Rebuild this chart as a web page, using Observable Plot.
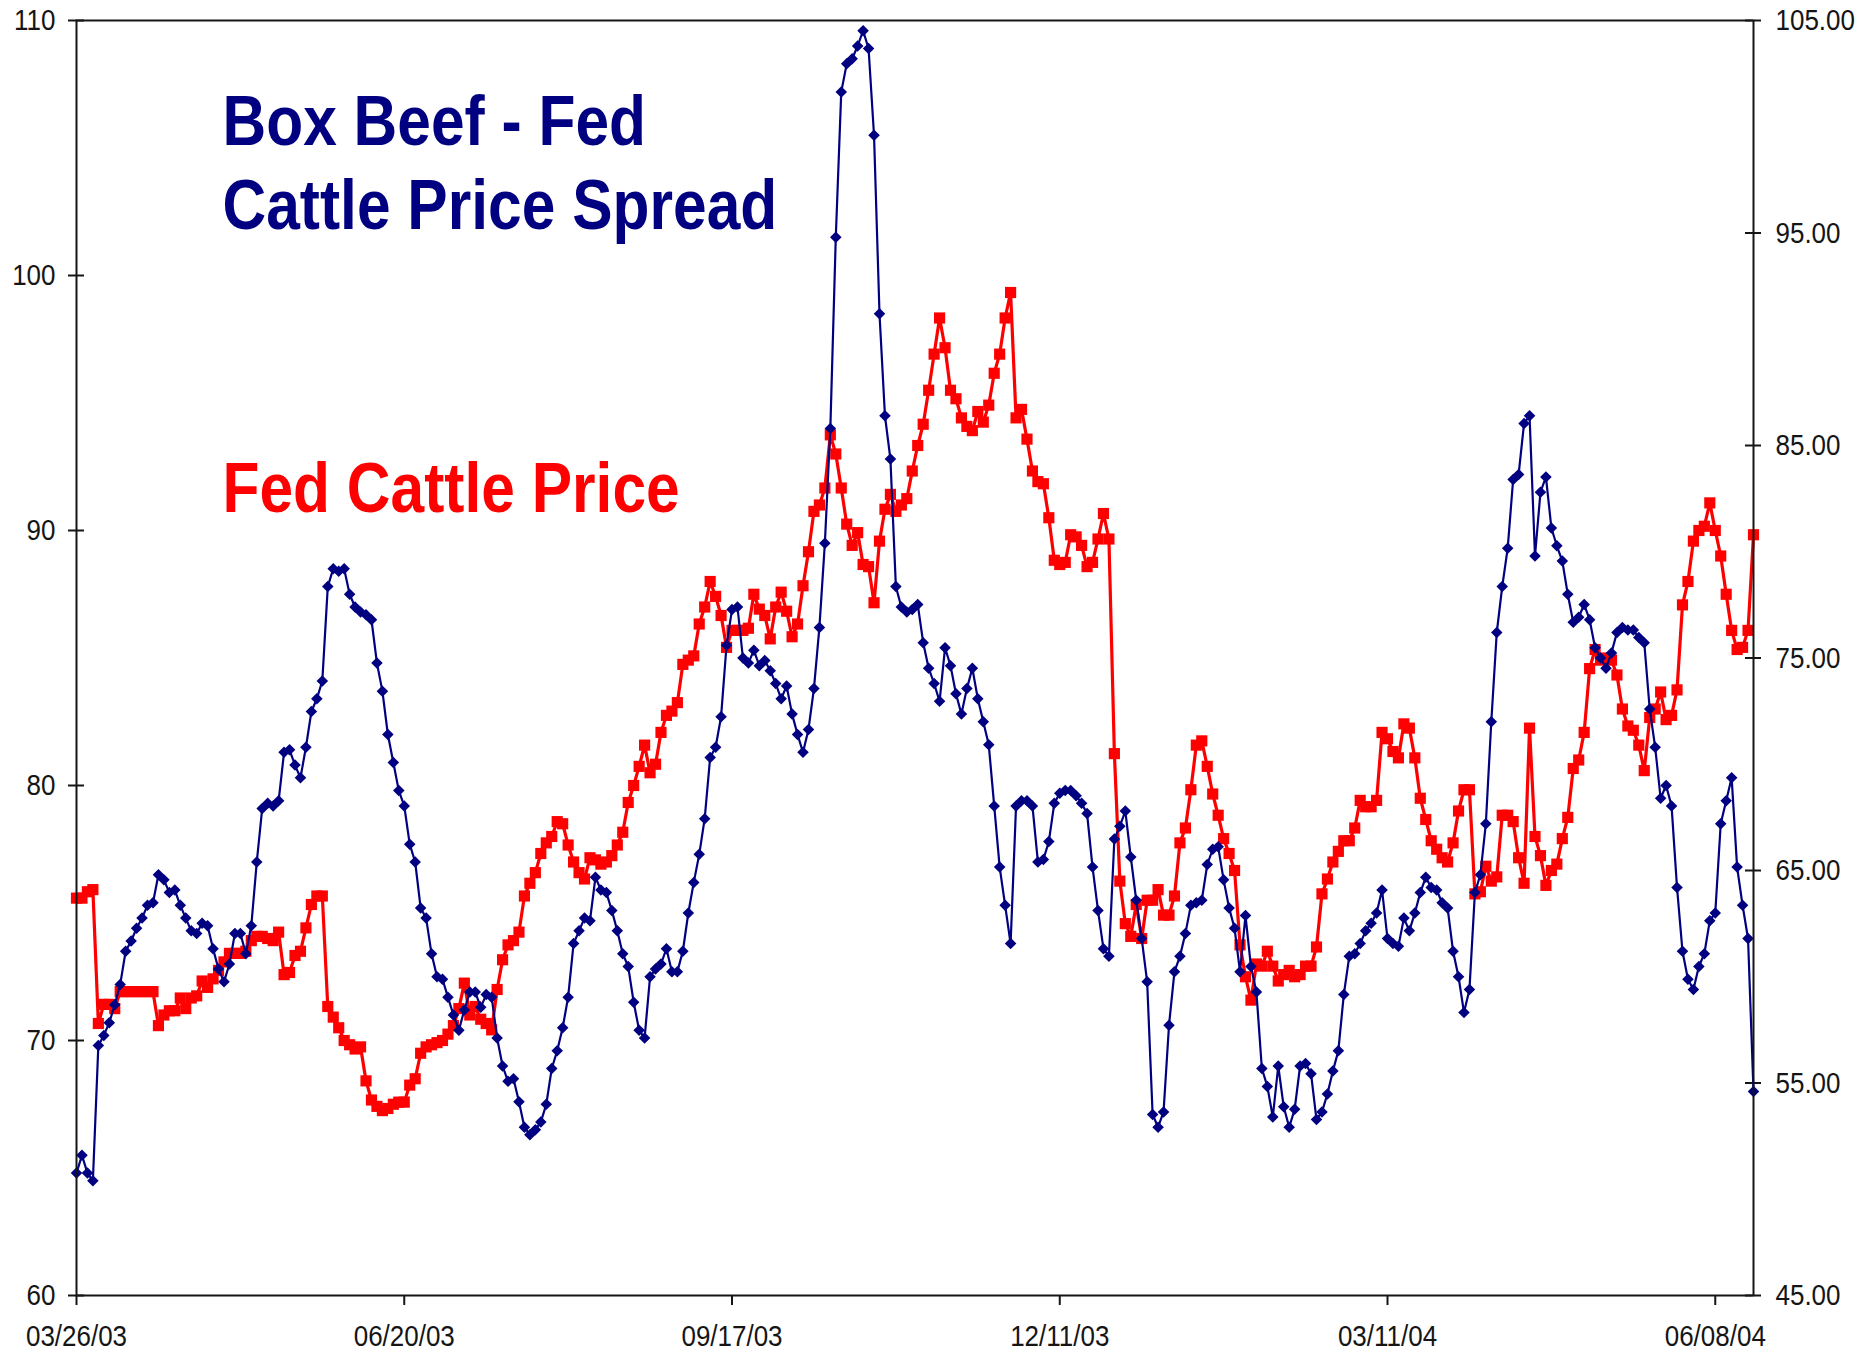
<!DOCTYPE html>
<html><head><meta charset="utf-8">
<script src="https://cdn.jsdelivr.net/npm/d3@7"></script>
<script src="https://cdn.jsdelivr.net/npm/@observablehq/plot@0.6"></script>
<style>body{margin:0;background:#fff;}</style>
</head><body><div id="chart"></div>
<script>
// Box beef - fed cattle price spread (left axis), one value per trading day
const spread = [
64.8,65.5,64.8,64.5,69.8,70.2,70.7,71.4,72.2,73.5,
73.9,74.4,74.8,75.3,75.4,76.5,76.3,75.8,75.9,75.3,
74.8,74.3,74.2,74.6,74.5,73.6,72.8,72.3,73.0,74.2,
74.2,73.4,74.5,77.0,79.1,79.3,79.2,79.4,81.3,81.4,
80.8,80.3,81.5,82.9,83.4,84.1,87.8,88.5,88.4,88.5,
87.5,87.0,86.8,86.7,86.5,84.8,83.7,82.0,80.9,79.8,
79.2,77.7,77.0,75.2,74.8,73.4,72.5,72.4,71.7,71.0,
70.4,71.2,71.9,71.9,71.3,71.8,71.7,70.1,69.0,68.4,
68.5,67.6,66.6,66.3,66.5,66.8,67.5,68.9,69.6,70.5,
71.7,73.8,74.3,74.8,74.7,76.4,75.9,75.8,75.1,74.3,
73.4,72.9,71.5,70.4,70.1,72.5,72.8,73.0,73.6,72.7,
72.7,73.5,75.0,76.2,77.3,78.7,81.1,81.5,82.7,85.5,
86.9,87.0,85.0,84.8,85.3,84.7,84.9,84.5,84.0,83.4,
83.9,82.8,82.0,81.3,82.2,83.8,86.2,89.5,94.0,101.5,
107.2,108.3,108.5,109.0,109.6,108.9,105.5,98.5,94.5,92.8,
87.8,87.0,86.8,86.9,87.1,85.6,84.6,84.0,83.3,85.4,
84.7,83.6,82.8,83.8,84.6,83.4,82.5,81.6,79.2,76.8,
75.3,73.8,79.2,79.4,79.4,79.2,77.0,77.1,77.8,79.3,
79.7,79.8,79.8,79.6,79.3,78.9,76.8,75.1,73.6,73.3,
77.9,78.4,79.0,77.2,75.5,74.0,72.3,67.1,66.6,67.2,
70.6,72.7,73.3,74.2,75.3,75.4,75.5,76.9,77.5,77.6,
76.3,75.2,74.4,72.7,74.9,72.9,71.9,68.9,68.2,67.0,
69.0,67.4,66.6,67.3,69.0,69.1,68.7,66.9,67.2,67.9,
68.8,69.6,71.8,73.3,73.4,73.8,74.3,74.6,75.0,75.9,
74.0,73.8,73.7,74.8,74.3,75.0,75.8,76.4,76.0,75.9,
75.4,75.2,73.5,72.5,71.1,72.0,75.8,76.5,78.5,82.5,
86.0,87.8,89.3,92.0,92.2,94.2,94.5,89.0,91.5,92.1,
90.1,89.4,88.8,87.5,86.4,86.6,87.1,86.5,85.4,85.0,
84.6,85.2,86.0,86.2,86.1,86.1,85.8,85.6,83.0,81.5,
79.5,80.0,79.2,76.0,73.5,72.4,72.0,72.9,73.4,74.7,
75.0,78.5,79.4,80.3,76.8,75.3,74.0,68.0
];
// Fed cattle price (right axis)
const price = [
63.7,63.7,64.0,64.1,57.8,58.7,58.7,58.5,59.3,59.3,
59.3,59.3,59.3,59.3,59.3,57.7,58.2,58.4,58.4,59.0,
58.5,59.0,59.1,59.8,59.5,59.9,60.3,60.7,61.1,61.1,
61.1,61.2,61.7,61.9,61.9,61.8,61.7,62.1,60.1,60.2,
61.0,61.2,62.3,63.4,63.8,63.8,58.6,58.1,57.6,57.0,
56.8,56.6,56.7,55.1,54.2,53.9,53.7,53.8,54.0,54.1,
54.1,54.9,55.2,56.4,56.7,56.8,56.9,57.0,57.3,57.7,
58.5,59.7,58.2,58.6,58.0,57.8,57.5,59.4,60.8,61.5,
61.7,62.1,63.8,64.4,64.9,65.8,66.3,66.6,67.3,67.2,
66.2,65.4,64.9,64.6,65.6,65.5,65.3,65.4,65.7,66.2,
66.8,68.2,69.0,69.9,70.9,69.6,70.0,71.5,72.3,72.5,
72.9,74.7,74.9,75.1,76.6,77.4,78.6,77.9,77.0,75.5,
76.3,76.3,76.3,76.4,78.0,77.3,77.0,75.9,77.4,78.1,
77.2,76.0,76.6,78.4,80.0,81.9,82.2,83.0,85.5,84.6,
83.0,81.3,80.3,80.9,79.4,79.3,77.6,80.5,82.0,82.7,
81.9,82.2,82.5,83.8,85.0,86.0,87.6,89.3,91.0,89.6,
87.6,87.2,86.3,85.9,85.7,86.6,86.1,86.9,88.4,89.3,
91.0,92.2,86.3,86.7,85.3,83.8,83.3,83.2,81.6,79.6,
79.4,79.5,80.8,80.7,80.3,79.3,79.5,80.6,81.8,80.6,
70.5,64.5,62.5,61.9,63.4,61.8,63.6,63.6,64.1,62.9,
62.9,63.8,66.3,67.0,68.8,70.9,71.1,69.9,68.6,67.6,
66.5,65.8,65.0,61.5,60.0,58.9,60.6,60.5,61.2,60.5,
59.8,60.1,60.3,60.0,60.1,60.5,60.5,61.4,63.9,64.6,
65.4,65.9,66.4,66.4,67.0,68.3,68.0,68.0,68.3,71.5,
71.2,70.6,70.3,71.9,71.7,70.3,68.4,67.4,66.4,66.0,
65.6,65.4,66.3,67.8,68.8,68.8,63.9,64.0,65.2,64.5,
64.7,67.6,67.6,67.3,65.6,64.4,71.7,66.6,65.7,64.3,
65.0,65.3,66.5,67.5,69.8,70.2,71.5,74.5,75.4,74.9,
75.0,74.9,74.2,72.6,71.8,71.6,70.9,69.7,72.2,72.6,
73.4,72.1,72.3,73.5,77.5,78.6,80.5,81.0,81.2,82.3,
81.0,79.8,78.0,76.3,75.4,75.5,76.3,80.8
];
const xTickIndex = [0, 60, 120, 180, 240, 300];
const xTickLabels = ["03/26/03", "06/20/03", "09/17/03", "12/11/03", "03/11/04", "06/08/04"];
const leftTicks = [60, 70, 80, 90, 100, 110];
const rightTicks = [45, 55, 65, 75, 85, 95, 105];
const leftDomain = [60, 110];
const rightDomain = [45, 105];
const titleLines = ["Box Beef - Fed", "Cattle Price Spread"];
const priceLabel = "Fed Cattle Price";

const toLeft = v => leftDomain[0] + (v - rightDomain[0]) * (leftDomain[1] - leftDomain[0]) / (rightDomain[1] - rightDomain[0]);
const fromLeft = v => rightDomain[0] + (v - leftDomain[0]) * (rightDomain[1] - rightDomain[0]) / (leftDomain[1] - leftDomain[0]);

const W = 1864, H = 1363, mL = 76, mR = 111, mT = 20, mB = 68;
const innerW = W - mL - mR;
const font = "Arial, 'Liberation Sans', sans-serif";
const ink = "#151515";

const chart = Plot.plot({
  width: W, height: H,
  marginLeft: mL, marginRight: mR, marginTop: mT, marginBottom: mB,
  style: {fontFamily: font, fontSize: "26px", color: ink, background: "#fff", overflow: "visible"},
  x: {domain: [0, spread.length - 1]},
  y: {domain: leftDomain},
  marks: [
    Plot.tickY(leftTicks, {y: d => d, insetRight: innerW - 8, stroke: ink, strokeWidth: 2}),
    Plot.tickY(rightTicks.map(toLeft), {y: d => d, insetLeft: innerW - 8, stroke: ink, strokeWidth: 2}),
    Plot.axisY({anchor: "left", ticks: leftTicks, tickSize: 8, tickPadding: 13, strokeWidth: 2,
      tickFormat: d => String(d), label: null}),
    Plot.axisY({anchor: "right", ticks: rightTicks.map(toLeft), tickSize: 7, tickPadding: 15, strokeWidth: 2,
      tickFormat: d => fromLeft(d).toFixed(2), label: null}),
    Plot.axisX({anchor: "bottom", ticks: xTickIndex, tickSize: 10, tickPadding: 19, strokeWidth: 2,
      tickFormat: d => xTickLabels[xTickIndex.indexOf(d)], label: null}),
    Plot.text([titleLines[0]], {frameAnchor: "top-left", dx: 146, dy: 124, text: d => d, textAnchor: "start",
      lineAnchor: "bottom", fontSize: 60.5, fontWeight: "bold", fill: "#000080"}),
    Plot.text([titleLines[1]], {frameAnchor: "top-left", dx: 146, dy: 208, text: d => d, textAnchor: "start",
      lineAnchor: "bottom", fontSize: 60.5, fontWeight: "bold", fill: "#000080"}),
    Plot.text([priceLabel], {frameAnchor: "top-left", dx: 146, dy: 491, text: d => d, textAnchor: "start",
      lineAnchor: "bottom", fontSize: 60.5, fontWeight: "bold", fill: "#ff0000"}),
    Plot.line(price, {x: (d, i) => i, y: d => toLeft(d), stroke: "#ff0000", strokeWidth: 3.2}),
    Plot.dot(price, {x: (d, i) => i, y: d => toLeft(d), symbol: "square", r: 6.3, fill: "#ff0000", stroke: "none"}),
    Plot.line(spread, {x: (d, i) => i, y: d => d, stroke: "#000080", strokeWidth: 2.2}),
    Plot.dot(spread, {x: (d, i) => i, y: d => d, symbol: "diamond2", r: 5.2, fill: "#000080", stroke: "none"}),
    Plot.frame({stroke: ink, strokeWidth: 2})
  ]
});

// the reference text is slightly stretched vertically
d3.select(chart).selectAll("text").each(function() {
  const t = this.getAttribute("transform") || "";
  this.setAttribute("transform", (t + " scale(1,1.15)").trim());
});

document.getElementById("chart").appendChild(chart);
</script>
</body></html>
